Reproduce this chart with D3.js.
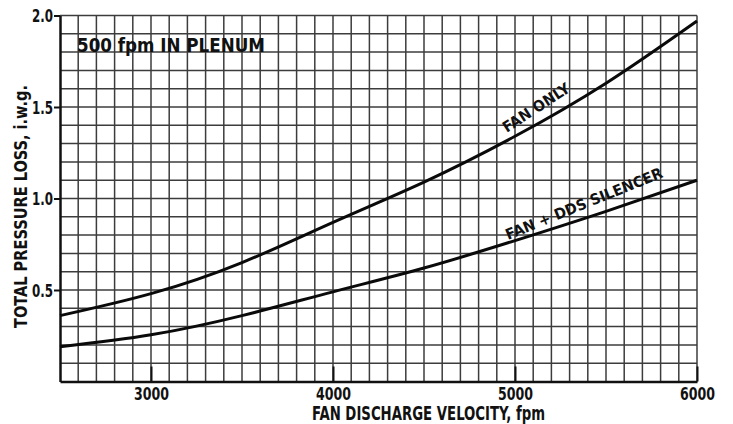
<!DOCTYPE html>
<html>
<head>
<meta charset="utf-8">
<script src="https://cdn.jsdelivr.net/npm/d3@7"></script>
<style>
  html, body { margin: 0; padding: 0; background: #fff; }
  svg { display: block; }
  .lbl { font-family: "DejaVu Sans Condensed", "Liberation Sans Narrow", sans-serif; font-weight: bold; fill: #111; }
</style>
</head>
<body>
<svg id="chart" width="733" height="424"></svg>
<script>
// Fan discharge velocity (fpm)
const velocity = [2500, 3000, 3500, 4000, 4500, 5000, 5500, 6000];
// Total pressure loss (in. w.g.)
const fanOnly = [0.36, 0.48, 0.65, 0.87, 1.09, 1.34, 1.63, 1.97];
const fanSilencer = [0.19, 0.255, 0.36, 0.49, 0.62, 0.77, 0.93, 1.10];

const yTickValues = [0.5, 1.0, 1.5, 2.0];
const xTickValues = [3000, 4000, 5000, 6000];

const svg = d3.select("#chart");
const x = d3.scaleLinear().domain([2500, 6000]).range([60, 697]);
const y = d3.scaleLinear().domain([0, 2]).range([381.5, 15.5]);

// squeeze a text to a given width so the bold face reads as a condensed gothic
function fit(sel, w) {
  sel.attr("textLength", w).attr("lengthAdjust", "spacingAndGlyphs");
}

// fine grid: every 100 fpm and every 0.1 in. w.g.
const g = svg.append("g");
g.selectAll("line.v").data(d3.range(2600, 6001, 100)).join("line")
  .attr("x1", d => x(d)).attr("x2", d => x(d))
  .attr("y1", y(0)).attr("y2", y(2))
  .attr("stroke", "#3c3c3c").attr("stroke-width", 1.5);
g.selectAll("line.h").data(d3.range(1, 21).map(i => i / 10)).join("line")
  .attr("x1", x(2500)).attr("x2", x(6000))
  .attr("y1", d => y(d)).attr("y2", d => y(d))
  .attr("stroke", "#3c3c3c").attr("stroke-width", 1.5);

// axes
const xAxis = d3.axisBottom(x).tickValues(xTickValues).tickSizeInner(-15).tickSizeOuter(0)
  .tickFormat(d3.format("d")).tickPadding(18.5);
const yAxis = d3.axisLeft(y).tickValues(yTickValues).tickSizeInner(6).tickSizeOuter(0)
  .tickFormat(d3.format(".1f")).tickPadding(1);

const gx = svg.append("g").attr("transform", `translate(0,${y(0)})`).call(xAxis);
gx.select(".domain").attr("stroke", "#111").attr("stroke-width", 2.5);
gx.selectAll(".tick line").attr("stroke", "#111").attr("stroke-width", 2);
gx.selectAll(".tick text").attr("class", "lbl").attr("font-size", 18).attr("dy", 0).call(fit, 35);

const gy = svg.append("g").attr("transform", `translate(${x(2500)},0)`).call(yAxis);
gy.select(".domain").attr("stroke", "#111").attr("stroke-width", 2.5);
gy.selectAll(".tick line").attr("stroke", "#111").attr("stroke-width", 2);
gy.selectAll(".tick text").attr("class", "lbl").attr("font-size", 18).attr("dy", "0.36em").call(fit, 21);

// curves
const line = d3.line().x((d, i) => x(velocity[i])).y(d => y(d)).curve(d3.curveNatural);
[fanOnly, fanSilencer].forEach(s => {
  svg.append("path").datum(s).attr("d", line)
    .attr("fill", "none").attr("stroke", "#0a0a0a").attr("stroke-width", 3);
});

// curve labels
svg.append("text").attr("class", "lbl").attr("font-size", 15)
  .attr("text-anchor", "middle")
  .attr("transform", "translate(539,112) rotate(-33)")
  .text("FAN ONLY").call(fit, 77);
svg.append("text").attr("class", "lbl").attr("font-size", 15)
  .attr("text-anchor", "middle")
  .attr("transform", "translate(586,208.5) rotate(-22)")
  .text("FAN + DDS SILENCER").call(fit, 168);

// note
svg.append("text").attr("class", "lbl").attr("font-size", 19)
  .attr("x", 77).attr("y", 52)
  .text("500 fpm IN PLENUM").call(fit, 188);

// axis titles
svg.append("text").attr("class", "lbl").attr("font-size", 19)
  .attr("x", 312).attr("y", 420)
  .text("FAN DISCHARGE VELOCITY, fpm").call(fit, 233);
svg.append("text").attr("class", "lbl").attr("font-size", 17)
  .attr("transform", "translate(27,328) rotate(-90)")
  .text("TOTAL PRESSURE LOSS, i.w.g.").call(fit, 243);
</script>
</body>
</html>
